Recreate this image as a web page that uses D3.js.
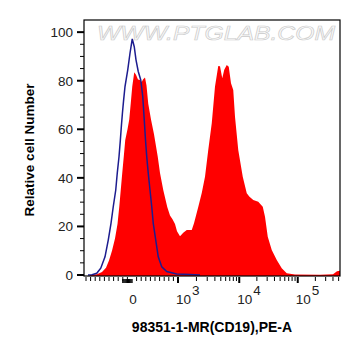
<!DOCTYPE html>
<html>
<head>
<meta charset="utf-8">
<script src="https://cdn.jsdelivr.net/npm/d3@7"></script>
<style>
  body { margin: 0; background: #fff; }
  text { font-family: "Liberation Sans", Arial, sans-serif; }
</style>
</head>
<body>
<div id="dvBody"></div>
<script>
var sampleChannel = [24, 52, 72, 88, 100, 112, 124, 134, 141, 147, 153, 159, 165, 174, 181, 187, 193, 201, 208, 216, 224, 231, 236, 244, 250, 257, 268, 280, 288, 295, 304, 317, 333, 344, 354, 364, 372, 384, 397, 411, 431, 440, 457, 471, 484, 497, 511, 524, 537, 544, 553, 561, 571, 579, 588, 597, 604, 617, 635, 651, 661, 677, 697, 715, 724, 735, 751, 771, 791, 811, 844, 944, 996, 1012, 1024];
var sampleCount = [0, 0.3, 1.2, 3, 6, 10, 15, 21, 28, 35, 42, 48.7, 55.6, 60, 64, 70.7, 77.6, 83.5, 82.5, 80.5, 80.3, 79.5, 80.5, 81.3, 78, 70.5, 64, 58, 53, 48.7, 42, 35, 28, 24.5, 23, 21, 18, 16, 17.4, 18.5, 18.5, 21.3, 28, 33.8, 40.5, 51.5, 62.5, 77.6, 86.1, 86, 81, 84.5, 86.5, 85.8, 79, 76.2, 65.2, 51.5, 40.5, 33.7, 32.3, 30.9, 30.2, 28.1, 24, 15.8, 10.3, 6.2, 2.8, 0.7, 0.2, 0.1, 0.3, 1.5, 1.8];

var controlChannel = [16, 32, 51, 67, 84, 97, 108, 117, 127, 133, 140, 145, 150, 154, 158, 164, 175, 184, 193, 201, 208, 217, 227, 235, 241, 246, 251, 257, 264, 271, 277, 287, 297, 311, 331, 371, 424, 464];
var controlCount = [0, 0.1, 0.7, 2.8, 7.5, 14.4, 21.3, 28.1, 35, 41.9, 48.7, 55, 62, 67, 71.5, 77.6, 84.5, 91.3, 97.2, 94, 88.6, 83.8, 80.3, 73.5, 63.9, 55.6, 48.7, 41.9, 35, 28.1, 21.3, 14.4, 7.5, 3.4, 1.4, 0.4, 0.2, 0];

//ejes
var yMajorTicks = [0, 20, 40, 60, 80, 100];
var xDecades = [3, 4, 5];
var xDecadeChannel = [376, 621, 855, 1089];
var zeroChannel = 192;

var margin = {top: 20, right: 21, bottom: 80, left: 84},
    width = 361 - margin.left - margin.right,
    height = 356 - margin.top - margin.bottom;

//transformacion biexponencial aproximada: valor -> canal
function biex(v) {
    if (v <= 1000) return zeroChannel + v * (xDecadeChannel[0] - zeroChannel) / 1000;
    var l = Math.log10(v) - 3, i = Math.min(Math.floor(l), 2);
    return xDecadeChannel[i] + (l - i) * (xDecadeChannel[i + 1] - xDecadeChannel[i]);
}

var svg = d3.select("#dvBody")
    .append("svg")
    .attr("width", 361)
    .attr("height", 356)
    .append("g")
    .attr("transform", "translate(" + margin.left + "," + margin.top + ")");

var x = d3.scaleLinear().domain([0, 1024]).range([0, width]);
var y = d3.scaleLinear().domain([0, 105]).range([height - 1, 0]);

svg.append("defs").append("clipPath").attr("id", "clip")
    .append("rect").attr("width", width).attr("height", height);

//marca de agua
svg.append("text")
    .attr("x", 13)
    .attr("y", 20)
    .attr("textLength", 238)
    .attr("lengthAdjust", "spacingAndGlyphs")
    .style("font-size", "20px")
    .style("font-style", "italic")
    .attr("fill", "#fafafa")
    .attr("stroke", "#cacaca")
    .attr("stroke-width", 0.6)
    .text("WWW.PTGLAB.COM");

var plot = svg.append("g").attr("clip-path", "url(#clip)");

//histograma de la muestra (rojo)
var sample = sampleChannel.map(function(c, i) { return {c: c, v: sampleCount[i]}; });
plot.append("path")
    .datum(sample)
    .attr("fill", "#ff0000")
    .attr("d", d3.area()
        .x(function(d) { return x(d.c); })
        .y0(y(0) + 2)
        .y1(function(d) { return y(d.v); }));

//histograma del control (azul)
var control = controlChannel.map(function(c, i) { return {c: c, v: controlCount[i]}; });
plot.append("path")
    .datum(control)
    .attr("fill", "none")
    .attr("stroke", "#1c1c8f")
    .attr("stroke-width", 1.5)
    .attr("d", d3.line()
        .x(function(d) { return x(d.c); })
        .y(function(d) { return y(d.v); }));

//marco
svg.append("rect")
    .attr("x", 0).attr("y", 0)
    .attr("width", width).attr("height", height)
    .attr("fill", "none")
    .attr("stroke", "#000")
    .attr("stroke-width", 1.2);

//eje Y
svg.append("g")
    .selectAll("line")
    .data(d3.range(0, 105, 5))
    .join("line")
    .attr("x1", function(d) { return d % 20 ? -4 : -7; })
    .attr("x2", 0)
    .attr("y1", function(d) { return y(d); })
    .attr("y2", function(d) { return y(d); })
    .attr("stroke", "#000")
    .attr("stroke-width", function(d) { return d % 20 ? 1 : 2; });

svg.append("g")
    .selectAll("text")
    .data(yMajorTicks)
    .join("text")
    .attr("x", -11)
    .attr("y", function(d) { return y(d) + 5; })
    .attr("text-anchor", "end")
    .style("font-size", "13.5px")
    .attr("fill", "#222")
    .text(function(d) { return d; });

//eje X: ticks lineales y logaritmicos
var minorVals = d3.range(-1000, 1000, 100).filter(function(v) { return v !== 0; });
xDecades.forEach(function(d) {
    d3.range(2, 10).forEach(function(m) { minorVals.push(m * Math.pow(10, d)); });
});
var minorPx = minorVals.map(function(v) { return x(biex(v)); }).filter(function(p) { return p > 1 && p < width - 1; });

svg.append("g")
    .selectAll("line")
    .data(minorPx)
    .join("line")
    .attr("x1", function(d) { return d; })
    .attr("x2", function(d) { return d; })
    .attr("y1", height + 1)
    .attr("y2", height + 5)
    .attr("stroke", "#000")
    .attr("stroke-width", 1);

//bloque denso alrededor de cero
svg.append("g")
    .selectAll("line")
    .data(d3.range(-200, 1, 25))
    .join("line")
    .attr("x1", function(d) { return x(biex(d)); })
    .attr("x2", function(d) { return x(biex(d)); })
    .attr("y1", height + 3)
    .attr("y2", height + 7)
    .attr("stroke", "#000")
    .attr("stroke-width", 1.3);

var majorVals = xDecades.map(function(d) { return Math.pow(10, d); });
svg.append("g")
    .selectAll("line")
    .data(majorVals)
    .join("line")
    .attr("x1", function(d) { return x(biex(d)); })
    .attr("x2", function(d) { return x(biex(d)); })
    .attr("y1", height + 1)
    .attr("y2", height + 7)
    .attr("stroke", "#000")
    .attr("stroke-width", 2);

svg.append("text")
    .attr("x", x(biex(0)) + 1)
    .attr("y", height + 28)
    .attr("text-anchor", "middle")
    .style("font-size", "13.5px")
    .attr("fill", "#222")
    .text("0");

var decLabels = svg.append("g")
    .selectAll("text")
    .data(xDecades)
    .join("text")
    .attr("x", function(d) { return x(biex(Math.pow(10, d))) - 2; })
    .attr("y", height + 28)
    .style("font-size", "13.5px")
    .attr("fill", "#222");
decLabels.append("tspan").text("10");
decLabels.append("tspan")
    .attr("dy", -9)
    .attr("dx", 1)
    .text(function(d) { return d; });

//titulos de los ejes
svg.append("text")
    .attr("x", 128)
    .attr("y", height + 56)
    .attr("text-anchor", "middle")
    .style("font-size", "14px")
    .style("font-weight", "bold")
    .text("98351-1-MR(CD19),PE-A");

svg.append("text")
    .attr("transform", "translate(-50," + 130 + ") rotate(-90)")
    .attr("text-anchor", "middle")
    .style("font-size", "13.5px")
    .style("font-weight", "bold")
    .text("Relative cell Number");
</script>
</body>
</html>
